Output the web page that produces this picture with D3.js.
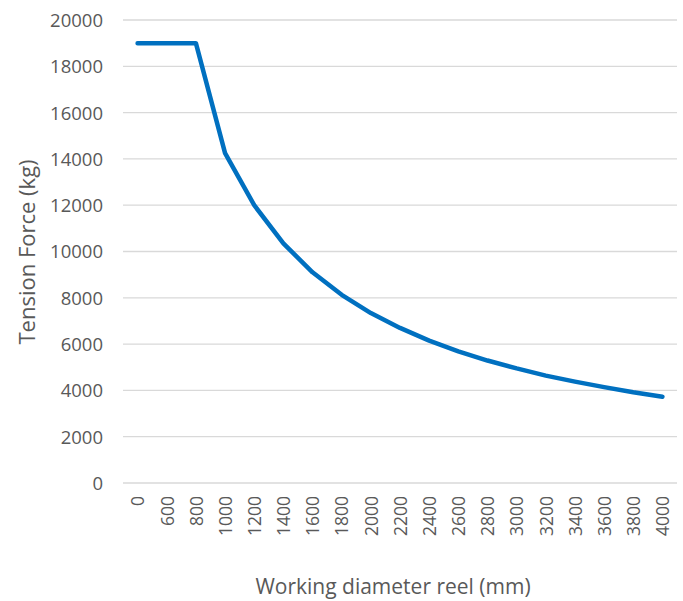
<!DOCTYPE html>
<html>
<head>
<meta charset="utf-8">
<script src="https://cdn.jsdelivr.net/npm/d3@7/dist/d3.min.js"></script>
<style>
  html, body { margin: 0; padding: 0; background: #fff; }
  svg text { font-family: "Open Sans", sans-serif; fill: #595959; }
</style>
</head>
<body>
<svg id="chart" width="683" height="601"></svg>
<script>
const categories = ["0","600","800","1000","1200","1400","1600","1800","2000","2200","2400","2600","2800","3000","3200","3400","3600","3800","4000"];
const tension = [19000,19000,19000,14250,12000,10350,9100,8130,7340,6700,6150,5690,5290,4950,4640,4380,4140,3920,3730];
const yTicks = [0,2000,4000,6000,8000,10000,12000,14000,16000,18000,20000];
const xTitle = "Working diameter reel (mm)";
const yTitle = "Tension Force (kg)";

const svg = d3.select("#chart");
const plot = { left: 123, right: 677, top: 20, bottom: 483 };

const x = d3.scalePoint().domain(categories).range([plot.left, plot.right]).padding(0.5);
const y = d3.scaleLinear().domain([0, 20000]).range([plot.bottom, plot.top]);

// gridlines
svg.append("g").selectAll("line").data(yTicks).join("line")
  .attr("x1", plot.left).attr("x2", plot.right)
  .attr("y1", d => y(d)).attr("y2", d => y(d))
  .attr("stroke", "#d9d9d9").attr("stroke-width", 1.3);

// y tick labels
const yAxis = d3.axisLeft(y).tickValues(yTicks).tickSize(0).tickPadding(0).tickFormat(d3.format("d"));
const yg = svg.append("g").attr("transform", `translate(${plot.left - 20},0)`).call(yAxis);
yg.select(".domain").remove();
yg.selectAll("text").attr("font-size", "18.5px").attr("fill", "#595959")
  .attr("font-family", "Open Sans, sans-serif").attr("x", 0).attr("dy", "0.35em");

// x tick labels
const xAxis = d3.axisBottom(x).tickSize(0).tickPadding(0);
const xg = svg.append("g").attr("transform", `translate(0,${plot.bottom})`).call(xAxis);
xg.select(".domain").remove();
xg.selectAll("text")
  .attr("font-size", "17.5px").attr("fill", "#595959").attr("font-family", "Open Sans, sans-serif")
  .attr("text-anchor", "end")
  .attr("transform", "rotate(-90)")
  .attr("x", -13).attr("y", 0).attr("dy", "0.36em");

// line
const line = d3.line().x((d, i) => x(categories[i])).y(d => y(d));
svg.append("path").datum(tension)
  .attr("d", line)
  .attr("fill", "none").attr("stroke", "#0070c0").attr("stroke-width", 4.5)
  .attr("stroke-linecap", "round").attr("stroke-linejoin", "round");

// titles
svg.append("text").attr("x", 393).attr("y", 594).attr("text-anchor", "middle")
  .attr("font-size", "21px").text(xTitle);
svg.append("text").attr("transform", "translate(35,252) rotate(-90)").attr("text-anchor", "middle")
  .attr("font-size", "22px").text(yTitle);
</script>
</body>
</html>
